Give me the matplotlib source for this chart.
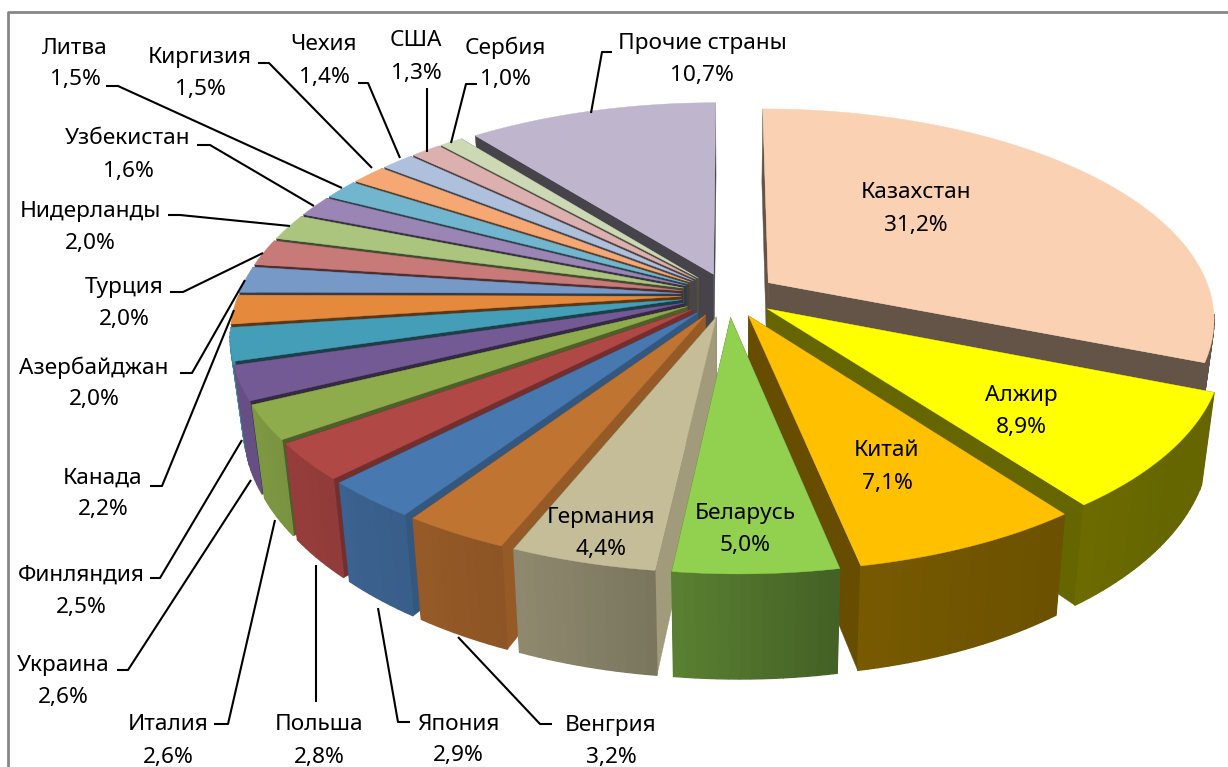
import numpy as np
import matplotlib
matplotlib.use("Agg")
import matplotlib.pyplot as plt
from matplotlib.patches import Polygon
from matplotlib.colors import to_rgb

countries = ["Казахстан", "Алжир", "Китай", "Беларусь", "Германия", "Венгрия", "Япония",
             "Польша", "Италия", "Украина", "Финляндия", "Канада", "Азербайджан", "Турция",
             "Нидерланды", "Узбекистан", "Литва", "Киргизия", "Чехия", "США", "Сербия",
             "Прочие страны"]
shares = [31.2, 8.9, 7.1, 5.0, 4.4, 3.2, 2.9, 2.8, 2.6, 2.6, 2.5, 2.2, 2.0, 2.0, 2.0, 1.6,
          1.5, 1.5, 1.4, 1.3, 1.0, 10.7]
colors = ["#FAD1B2", "#FFFF00", "#FFC000", "#92D050", "#C4BD97", "#C07432", "#4878B0",
          "#B04846", "#8FAC4C", "#745A94", "#459EB8", "#E58A3C", "#7799C7", "#C87A79",
          "#ABC57E", "#9A85B4", "#72B5CF", "#F5A873", "#AFC0DD", "#DDB0B0", "#CDD9B5",
          "#BFB6CD"]

# label centre x, y of the first line (second line goes 32px lower)
label_pos = [(916, 193), (1021, 396), (887, 451), (745, 513), (601, 517), (611, 725),
             (458, 724), (319, 725), (168, 725), (63, 665), (81, 575), (103, 478),
             (94, 368), (124, 287), (90, 211), (128, 139), (75, 48), (200, 57),
             (324, 45), (416, 41), (505, 48), (702, 44)]

# leader lines, None for the labels that sit on the slice
leaders = [None, None, None, None, None,
           [(552, 724), (540, 724), (458, 637)],
           [(410, 722), (398, 722), (378, 608)],
           [(316, 702), (316, 565)],
           [(214, 724), (228, 724), (275, 520)],
           [(117, 670), (128, 670), (251, 480)],
           [(150, 578), (160, 578), (242, 440)],
           [(150, 486), (162, 486), (234, 310)],
           [(180, 373), (192, 373), (245, 280)],
           [(170, 292), (183, 292), (263, 253)],
           [(168, 215), (180, 215), (290, 226)],
           [(197, 145), (210, 145), (314, 206)],
           [(106, 86), (118, 86), (342, 188)],
           [(258, 63), (269, 63), (372, 168)],
           [(358, 83), (368, 83), (400, 158)],
           [(427, 88), (427, 152)],
           [(477, 84), (466, 84), (451, 143)],
           [(612, 52), (602, 52), (591, 113)]]

# pie geometry in pixels
cx, cy = 729, 295
rx, ry = 443, 206
persp = 0.164
explode = 0.108
height = 86


def project(X, Y, z=0.0):
    s = 1 / (1 - persp * Y)
    px = cx + rx * X * s * (1 - 0.026 * z) + 7 * max(Y, 0) ** 2
    py = cy + ry * Y * s + height * s * z
    return px, py


def shade(col, f):
    return tuple(min(1, c * f) for c in to_rgb(col))


def start_edge_factor(deg):
    # the lower radial edge of the left half catches the light
    if deg < 180:
        return 0.40
    return np.interp(deg, [187, 203, 215, 225, 235, 244, 254, 360],
                     [0.82, 0.78, 0.72, 0.65, 0.55, 0.46, 0.40, 0.35])


def rim_factor(t):
    return np.interp(np.sin(t), [-0.9, -0.64, -0.39, -0.13, 0.17, 0.4, 0.8, 1.0],
                     [0.88, 0.80, 0.73, 0.62, 0.47, 0.44, 0.40, 0.40])


fig = plt.figure(figsize=(12.28, 7.67), dpi=100)
ax = fig.add_axes([0, 0, 1, 1])
ax.set_xlim(0, 1228)
ax.set_ylim(767, 0)
ax.axis("off")

# chart frame, only left and top are inside the picture
ax.plot([8, 8, 1228], [767, 11.5, 11.5], color="#868686", lw=2, zorder=1)

bounds = np.cumsum([0] + shares) / sum(shares) * 360
mids = (bounds[:-1] + bounds[1:]) / 2
order = np.argsort(-np.cos(np.radians(mids)))

z = 10
for i in order:
    a0, a1 = bounds[i], bounds[i + 1]
    m = np.radians(mids[i])
    ox, oy = explode * np.sin(m), -explode * np.cos(m)
    th = np.radians(np.linspace(a0, a1, max(3, int((a1 - a0) / 1.2) + 2)))
    rim = [(ox + np.sin(t), oy - np.cos(t)) for t in th]

    # radial side walls, the one further back first
    sides = [(rim[0], start_edge_factor(a0)), (rim[-1], 0.40)]
    if mids[i] > 180:
        sides = sides[::-1]
    for (X, Y), f in sides:
        wall = [project(ox, oy), project(X, Y), project(X, Y, 1), project(ox, oy, 1)]
        c = shade(colors[i], f)
        ax.add_patch(Polygon(wall, closed=True, fc=c, ec=c, lw=0.3, zorder=z))
        z += 1

    # outer wall, shaded strip by strip, only the part facing the viewer
    for j in range(len(rim) - 1):
        t = (th[j] + th[j + 1]) / 2
        if np.cos(t) > -0.15:
            continue
        p, q = rim[j], rim[j + 1]
        strip = [project(*p), project(*q), project(*q, 1), project(*p, 1)]
        c = shade(colors[i], rim_factor(t))
        ax.add_patch(Polygon(strip, closed=True, fc=c, ec=c, lw=1.0, zorder=z))
    z += 1

    # top face
    top = [project(ox, oy)] + [project(X, Y) for X, Y in rim]
    ax.add_patch(Polygon(top, closed=True, fc=colors[i], ec=colors[i], lw=0.3, zorder=z))
    z += 1

font = ["Noto Sans", "DejaVu Sans"]
for name, val, (lx, ly), lead in zip(countries, shares, label_pos, leaders):
    pct = f"{val:.1f}".replace(".", ",") + "%"
    ax.text(lx, ly, name, ha="center", va="center", fontsize=16.3, family=font, zorder=500)
    ax.text(lx, ly + 32, pct, ha="center", va="center", fontsize=16.3, family=font, zorder=500)
    if lead:
        xs, ys = zip(*lead)
        ax.plot(xs, ys, color="black", lw=1.5, zorder=400, solid_capstyle="butt")

fig.savefig("out.png", dpi=100)
